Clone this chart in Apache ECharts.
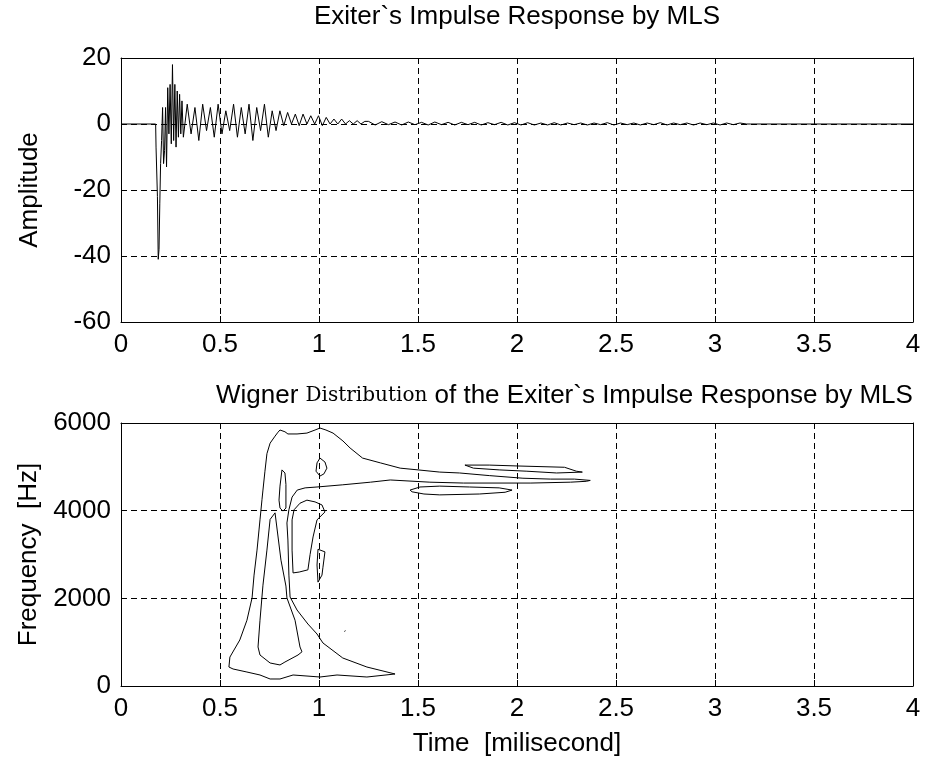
<!DOCTYPE html>
<html><head><meta charset="utf-8">
<script src="https://cdn.jsdelivr.net/npm/echarts@6/dist/echarts.min.js"></script>
<style>html,body{margin:0;padding:0;background:#fff}#c{width:925px;height:763px}</style>
</head><body><div id="c"></div>
<script>
// ---- Top plot: impulse response (time in ms, amplitude) ----
const onsetTimes = [0, 0.175, 0.177, 0.181, 0.184, 0.188, 0.192, 0.196, 0.2, 0.205, 0.21, 0.215, 0.22, 0.225, 0.23, 0.236, 0.242, 0.248, 0.254, 0.26, 0.266, 0.272, 0.278, 0.284, 0.29, 0.296, 0.302, 0.308];
const onsetAmps  = [0, 0, -7, -7, -22, -41, -38, -24, -12, -5, 5, -12, -8, 5, -13, 11, -3, 12, -6, 18, -5, 12, -7, 10, -4, 9, -3, 7];
const ringStart = 0.315, ringStep = 0.0195;
const ringAmps = [-4, 6, -3, 5, -5, 6, -2, 5, -4, 6, -3, 4, -2, 6, -4, 5, -3, 6, -5, 5, -2, 6, -4, 4, -2, 4, -0.5, 3.5, 0, 3, -0.5, 3, 0, 2.5, 0, 2.5, -0.5, 2, 0, 1.5, 0, 1.5, 0, 1, 0, 1, 0, 0.8];
const tailStart = 1.25, tailStep = 0.0335;
const tailAmps = [0.8, -0.3, 0.7, -0.2, 0.6, -0.3, 0.6, -0.2, 0.5, -0.3, 0.6, -0.2, 0.5, -0.3, 0.5, -0.2, 0.5, -0.3, 0.4, -0.2, 0.5, -0.3, 0.4,
  -0.3, 0.4, -0.3, 0.3, -0.3, 0.4, -0.3, 0.3, -0.2, 0.3, -0.3, 0.3, -0.2, 0.4, -0.3, 0.3, -0.2, 0.3, -0.3, 0.3, -0.2, 0.4, -0.3, 0.3, -0.2, 0.3, -0.3, 0.3, -0.2, 0.3, -0.3, 0.3, -0.2, 0.3, 0];
const endTimes = [3.18, 4];
const endAmps = [0, 0];

// ---- Bottom plot: Wigner distribution contours ([time ms, frequency Hz]) ----
const contourOuter = [[0.566,388],[0.545,433],[0.55,660],[0.60,1050],[0.636,1500],[0.662,2010],[0.672,2530],[0.687,3100],[0.697,3560],[0.702,3790],[0.712,4250],[0.717,4470],[0.727,4900],[0.737,5300],[0.753,5540],[0.778,5700],[0.793,5790],[0.803,5840],[0.828,5800],[0.843,5750],[0.889,5750],[0.939,5770],[0.98,5840],[1.005,5885],[1.035,5840],[1.071,5770],[1.121,5590],[1.157,5430],[1.22,5200],[1.31,5090],[1.41,4970],[1.50,4930],[1.61,4880],[1.71,4860],[1.86,4800],[2.03,4740],[2.17,4720],[2.29,4720],[2.37,4690],[2.35,4670],[2.27,4650],[2.07,4630],[1.73,4630],[1.56,4650],[1.36,4700],[1.26,4650],[1.12,4590],[0.99,4540],[0.93,4520],[0.89,4470],[0.864,4310],[0.848,4020],[0.838,3720],[0.843,3330],[0.848,2530],[0.854,2030],[0.889,1734],[0.944,1414],[0.99,1186],[1.02,981],[1.12,639],[1.242,433],[1.384,274],[1.242,205],[1.091,251],[1.005,205],[0.869,251],[0.803,160],[0.753,160],[0.702,251],[0.636,319],[0.566,388]];
const contourTriangle = [[0.778,3950],[0.808,2870],[0.833,2280],[0.838,2010],[0.879,1500],[0.904,890],[0.914,780],[0.894,707],[0.828,547],[0.803,480],[0.753,525],[0.702,707],[0.692,890],[0.702,1500],[0.717,2300],[0.737,3100],[0.753,3800],[0.778,3950]];
const contourNarrow = [[0.813,4930],[0.828,4860],[0.833,4600],[0.833,4060],[0.818,3990],[0.803,4060],[0.798,4240],[0.803,4560],[0.813,4930]];
const contourU = [[0.869,2580],[0.864,3100],[0.864,3790],[0.874,4020],[0.904,4170],[0.939,4240],[0.98,4200],[1.015,4130],[1.03,3970],[0.99,3790],[0.97,3400],[0.955,3000],[0.944,2650],[0.9,2600],[0.869,2580]];
const contourSmallHigh = [[1.005,5200],[1.03,5110],[1.04,4970],[1.025,4840],[1.005,4790],[0.985,4900],[0.99,5090],[1.005,5200]];
const contourSmallMid = [[0.995,3120],[1.03,3060],[1.02,2710],[1.015,2530],[0.995,2370],[0.99,2760],[0.995,3120]];
const contourFinger = [[1.737,5040],[1.86,5040],[2.0,5020],[2.24,4990],[2.30,4900],[2.33,4880],[2.33,4860],[2.20,4860],[2.05,4900],[1.91,4930],[1.78,4970],[1.737,5040]];
const contourLower = [[1.46,4470],[1.51,4540],[1.61,4560],[1.76,4540],[1.91,4520],[1.975,4470],[1.94,4420],[1.81,4380],[1.61,4360],[1.53,4380],[1.47,4430],[1.46,4470]];
const contourDot = [[1.128,1245],[1.134,1262]];

// ---- Axis settings ----
const timeMin = 0, timeMax = 4, timeStep = 0.5;
const ampMin = -60, ampMax = 20, ampStep = 20;
const freqMin = 0, freqMax = 6000, freqStep = 2000;

const FONT = '"Liberation Sans", Arial, sans-serif';
const FS = 26;

const resp = [];
onsetTimes.forEach((t, i) => resp.push([t, onsetAmps[i]]));
ringAmps.forEach((a, i) => resp.push([ringStart + i * ringStep, a]));
tailAmps.forEach((a, i) => resp.push([tailStart + i * tailStep, a]));
endTimes.forEach((t, i) => resp.push([t, endAmps[i]]));

const contours = [contourOuter, contourTriangle, contourNarrow, contourU, contourSmallHigh, contourSmallMid, contourFinger, contourLower, contourDot];

function mainAxis(grid, pos, min, max, step, extra) {
  return Object.assign({
    gridIndex: grid, type: 'value', position: pos, min: min, max: max, interval: step,
    axisLine: { show: true, onZero: false, lineStyle: { color: '#000', width: 1 } },
    axisTick: { show: true, inside: true, length: 6, lineStyle: { color: '#000' } },
    axisLabel: { show: true, color: '#000', fontSize: FS, fontFamily: FONT, margin: 10, showMinLabel: true, showMaxLabel: true,
      formatter: v => String(v) },
    splitLine: { show: true, lineStyle: { color: '#000', type: [6, 4], width: 1 } },
    nameTextStyle: { color: '#000', fontSize: FS, fontFamily: FONT }
  }, extra || {});
}
function mirrorAxis(grid, pos, min, max, step) {
  return {
    gridIndex: grid, type: 'value', position: pos, min: min, max: max, interval: step,
    axisLine: { show: true, onZero: false, lineStyle: { color: '#000', width: 1 } },
    axisTick: { show: true, inside: true, length: 6, lineStyle: { color: '#000' } },
    axisLabel: { show: false }, splitLine: { show: false }
  };
}

const series = [{
  type: 'line', xAxisIndex: 0, yAxisIndex: 0, data: resp, symbol: 'none',
  lineStyle: { color: '#000', width: 1 }, animation: false
}];
contours.forEach(c => series.push({
  type: 'line', xAxisIndex: 2, yAxisIndex: 2, data: c, symbol: 'none',
  lineStyle: { color: '#000', width: 1 }, animation: false
}));

const chart = echarts.init(document.getElementById('c'), null, { renderer: 'canvas' });
chart.setOption({
  backgroundColor: '#fff',
  animation: false,
  grid: [
    { left: 121, right: 12, top: 58, height: 264 },
    { left: 121, right: 12, top: 423, height: 263 }
  ],
  xAxis: [
    mainAxis(0, 'bottom', timeMin, timeMax, timeStep),
    mirrorAxis(0, 'top', timeMin, timeMax, timeStep),
    mainAxis(1, 'bottom', timeMin, timeMax, timeStep, { name: 'Time  [milisecond]', nameLocation: 'middle', nameGap: 45 }),
    mirrorAxis(1, 'top', timeMin, timeMax, timeStep)
  ],
  yAxis: [
    mainAxis(0, 'left', ampMin, ampMax, ampStep, { name: 'Amplitude', nameLocation: 'middle', nameGap: 78 }),
    mirrorAxis(0, 'right', ampMin, ampMax, ampStep),
    mainAxis(1, 'left', freqMin, freqMax, freqStep, { name: 'Frequency  [Hz]', nameLocation: 'middle', nameGap: 78 }),
    mirrorAxis(1, 'right', freqMin, freqMax, freqStep)
  ],
  graphic: [
    { type: 'text', x: 517, y: 17, style: { text: 'Exiter`s Impulse Response by MLS', font: FS + 'px ' + FONT, fill: '#000', textAlign: 'center', textVerticalAlign: 'middle' } },
    { type: 'text', x: 216, y: 396, style: {
      text: '{a|Wigner }{b|Distribution}{a| of the Exiter`s Impulse Response by MLS}',
      textVerticalAlign: 'middle',
      rich: {
        a: { fontSize: FS, fontFamily: FONT, fill: '#000', color: '#000' },
        b: { fontSize: 20, fontFamily: '"DejaVu Serif", "Liberation Serif", serif', fill: '#000', color: '#000' }
      } } }
  ],
  series: series
});
</script></body></html>
